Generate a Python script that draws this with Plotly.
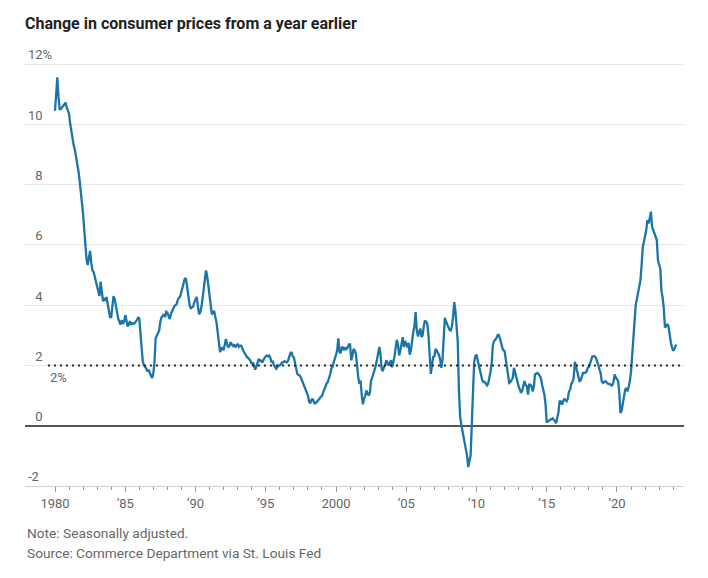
import pandas as pd
import plotly.graph_objects as go

# ---------------- data ----------------
start_month = "1980-01-01"
# PCE price index, % change from a year earlier, monthly (one row per year)
pce_yoy = [
    10.45, 11.0, 11.56, 10.9, 10.5, 10.5, 10.55, 10.6, 10.65, 10.72, 10.55, 10.45,   # 1980
    10.35, 10.0, 9.75, 9.55, 9.3, 9.15, 8.95, 8.7, 8.45, 8.15, 7.85, 7.4,           # 1981
    7.0, 6.5, 5.9, 5.5, 5.33, 5.6, 5.8, 5.4, 5.15, 5.1, 4.95, 4.8,                  # 1982
    4.6, 4.47, 4.3, 4.78, 4.5, 4.13, 4.2, 4.15, 4.27, 4.0, 3.75, 3.6,               # 1983
    3.6, 3.95, 4.3, 4.2, 3.97, 3.8, 3.55, 3.45, 3.36, 3.5, 3.38, 3.45,              # 1984
    3.67, 3.5, 3.3, 3.35, 3.47, 3.35, 3.4, 3.38, 3.4, 3.45, 3.5, 3.58,              # 1985
    3.55, 3.1, 2.7, 2.13, 2.0, 1.95, 1.9, 1.8, 1.86, 1.75, 1.65, 1.58,              # 1986
    1.75, 2.13, 2.9, 3.0, 3.1, 3.16, 3.45, 3.6, 3.65, 3.7, 3.6, 3.78,               # 1987
    3.75, 3.6, 3.54, 3.7, 3.8, 3.9, 3.97, 4.0, 4.05, 4.19, 4.25, 4.3,               # 1988
    4.45, 4.58, 4.7, 4.9, 4.85, 4.55, 4.36, 4.0, 3.9, 3.92, 3.95, 4.1,              # 1989
    4.2, 4.27, 4.0, 3.7, 3.75, 3.92, 4.2, 4.6, 5.0, 5.15, 4.95, 4.58,               # 1990
    4.2, 3.9, 3.7, 3.75, 3.81, 3.6, 3.43, 3.1, 2.8, 2.44, 2.55, 2.6,                # 1991
    2.5, 2.7, 2.88, 2.7, 2.6, 2.65, 2.77, 2.7, 2.65, 2.7, 2.6, 2.66,                # 1992
    2.7, 2.62, 2.66, 2.66, 2.55, 2.44, 2.4, 2.35, 2.27, 2.25, 2.2, 2.15,            # 1993
    2.05, 2.1, 2.0, 1.86, 1.95, 2.1, 2.22, 2.15, 2.16, 2.1, 2.2, 2.25,              # 1994
    2.3, 2.33, 2.3, 2.33, 2.25, 2.1, 2.15, 2.0, 1.95, 1.89, 1.95, 2.0,              # 1995
    2.0, 2.05, 2.1, 2.1, 2.14, 2.12, 2.1, 2.15, 2.3, 2.4, 2.44, 2.3,                # 1996
    2.27, 2.1, 1.9, 1.72, 1.68, 1.67, 1.6, 1.5, 1.35, 1.29, 1.2, 1.1,               # 1997
    1.0, 0.8, 0.74, 0.85, 0.9, 0.8, 0.74, 0.76, 0.8, 0.85, 0.9, 0.96,               # 1998
    0.98, 1.1, 1.2, 1.34, 1.4, 1.45, 1.55, 1.7, 1.89, 1.95, 2.1, 2.27,              # 1999
    2.35, 2.5, 2.9, 2.45, 2.4, 2.6, 2.6, 2.5, 2.6, 2.55, 2.6, 2.7,                  # 2000
    2.7, 2.17, 2.3, 2.55, 2.5, 2.39, 1.9, 1.61, 1.39, 1.5, 1.0, 0.71,               # 2001
    0.9, 1.0, 1.17, 1.1, 1.0, 1.1, 1.5, 1.6, 1.7, 1.86, 2.0, 2.28,                  # 2002
    2.4, 2.61, 2.4, 1.89, 1.81, 1.95, 2.0, 2.17, 2.06, 2.0, 2.1, 2.17,              # 2003
    1.94, 2.1, 2.3, 2.6, 2.85, 2.66, 2.33, 2.5, 2.7, 2.94, 2.61, 2.81,              # 2004
    2.7, 2.6, 2.75, 2.36, 2.5, 2.88, 3.1, 3.3, 3.77, 3.16, 2.96, 3.1,               # 2005
    3.22, 2.94, 3.0, 3.3, 3.49, 3.45, 3.38, 3.0, 2.2, 1.72, 2.0, 2.28,              # 2006
    2.3, 2.55, 2.5, 2.44, 2.35, 2.2, 1.92, 2.2, 2.9, 3.58, 3.45, 3.35,              # 2007
    3.3, 3.18, 3.16, 3.3, 3.6, 4.1, 3.82, 3.4, 2.77, 1.17, 0.3, 0.04,               # 2008
    -0.15, -0.35, -0.54, -0.76, -1.0, -1.37, -1.2, -0.98, 0.07, 1.2, 2.11, 2.3,     # 2009
    2.36, 2.17, 2.0, 1.8, 1.61, 1.5, 1.45, 1.45, 1.4, 1.34, 1.4, 1.56,              # 2010
    1.8, 2.1, 2.66, 2.8, 2.85, 2.9, 3.0, 3.01, 2.9, 2.7, 2.6, 2.5,                  # 2011
    2.48, 2.2, 1.9, 1.59, 1.42, 1.45, 1.5, 1.59, 1.92, 1.75, 1.59, 1.48,            # 2012
    1.3, 1.2, 1.09, 1.15, 1.3, 1.48, 1.35, 1.31, 1.03, 1.36, 1.36, 1.3,             # 2013
    1.14, 1.3, 1.7, 1.72, 1.75, 1.72, 1.65, 1.59, 1.36, 1.2, 1.03, 0.7,             # 2014
    0.1, 0.16, 0.16, 0.2, 0.22, 0.25, 0.2, 0.16, 0.08, 0.25, 0.45, 0.81,            # 2015
    0.81, 0.7, 0.8, 0.9, 0.85, 0.81, 0.9, 1.14, 1.2, 1.39, 1.45, 1.59,              # 2016
    2.12, 1.95, 1.75, 1.6, 1.48, 1.5, 1.6, 1.75, 1.75, 1.75, 1.8, 1.92,             # 2017
    1.95, 2.05, 2.15, 2.3, 2.31, 2.3, 2.25, 2.15, 2.03, 1.87, 1.75, 1.48,           # 2018
    1.42, 1.45, 1.48, 1.45, 1.4, 1.39, 1.38, 1.34, 1.34, 1.45, 1.7, 1.6,            # 2019
    1.55, 1.48, 1.1, 0.42, 0.5, 0.7, 0.95, 1.2, 1.25, 1.14, 1.3, 1.48,              # 2020
    1.81, 2.37, 3.0, 3.59, 4.0, 4.2, 4.4, 4.6, 4.82, 5.3, 5.93, 6.1,                # 2021
    6.27, 6.5, 6.82, 6.71, 6.88, 7.1, 6.6, 6.49, 6.4, 6.3, 6.16, 5.49,              # 2022
    5.38, 5.2, 4.48, 4.26, 3.9, 3.26, 3.3, 3.37, 3.3, 2.92, 2.76, 2.6,              # 2023
    2.48, 2.55, 2.65, 2.68,                                                         # 2024
]
target_rate = 2
x_tick_years = [1980, 1985, 1990, 1995, 2000, 2005, 2010, 2015, 2020]
x_tick_labels = ["1980", "\u201985", "\u201990", "\u201995", "2000",
                 "\u201905", "\u201910", "\u201915", "\u201920"]
y_tick_values = [-2, 0, 2, 4, 6, 8, 10, 12]
title_text = "Change in consumer prices from a year earlier"
note_text = "Note: Seasonally adjusted."
source_text = "Source: Commerce Department via St. Louis Fed"

# ---------------- figure ----------------
months = pd.date_range(start_month, periods=len(pce_yoy), freq="MS")

# the page body has an 8px margin, so the figure is 8px smaller and offset
W, H = 700, 570
ML, MR, MT, MB = 17, 24, 38, 92
plot_h = H - MT - MB

TFONT = "Roboto, sans-serif"
FONT = "Roboto, sans-serif"
GREY = "#666666"

def ylab(v):
    s = str(v)
    if v == max(y_tick_values):
        return s + "%"
    return ("\u2007" * (2 - len(s))) + s if len(s) < 2 else s

fig = go.Figure()
fig.add_trace(go.Scatter(
    x=months, y=pce_yoy, mode="lines",
    line=dict(color="#1a75a9", width=2.3),
    hoverinfo="skip", showlegend=False,
))

# 2% target line
fig.add_shape(type="line", xref="x", yref="y",
              x0="1979-07-01", x1="2024-10-08", y0=target_rate, y1=target_rate,
              line=dict(color="#222222", width=2, dash="2px,4px"), layer="above")
fig.add_annotation(x="1979-07-01", y=target_rate, xref="x", yref="y",
                   text=f"{target_rate}%", showarrow=False, xanchor="left",
                   yanchor="middle", yshift=-12,
                   font=dict(family=FONT, size=13, color=GREY))

fig.update_layout(
    width=W, height=H,
    margin=dict(l=ML, r=MR, t=MT, b=MB, pad=0),
    paper_bgcolor="white", plot_bgcolor="white",
    font=dict(family=FONT, size=13, color=GREY),
    title=dict(text=f"<b>{title_text}</b>", xref="container", yref="container",
               x=ML / W, xanchor="left", y=1 - 15 / H, yanchor="middle",
               font=dict(family=TFONT, size=16, color="#222222")),
    xaxis=dict(
        type="date", range=["1977-11-12", "2024-10-08"],
        tickvals=[f"{y}-01-01" for y in x_tick_years], ticktext=x_tick_labels,
        ticks="outside", ticklen=5, tickwidth=1, tickcolor="#999999",
        showline=True, linecolor="#d0d0d0", linewidth=1,
        showgrid=False, zeroline=False,
        tickfont=dict(family=FONT, size=13, color=GREY),
        minor=dict(dtick="M12", tick0="1980-01-01", ticks="outside", ticklen=3,
                   tickwidth=1, tickcolor="#999999", showgrid=False),
    ),
    yaxis=dict(
        range=[-2, 12.597],
        tickvals=y_tick_values, ticktext=[ylab(v) for v in y_tick_values],
        ticks="", ticklabelposition="inside top",
        showgrid=True, gridcolor="#e6e6e6", gridwidth=1,
        zeroline=True, zerolinecolor="#555555", zerolinewidth=1.5,
        showline=False,
        tickfont=dict(family=FONT, size=13, color=GREY),
    ),
    annotations=list(fig.layout.annotations) + [
        dict(text=note_text, xref="paper", yref="paper", x=0, y=-(525 - (H - MB)) / plot_h,
             xanchor="left", yanchor="middle", showarrow=False,
             font=dict(family=FONT, size=13.7, color=GREY)),
        dict(text=source_text, xref="paper", yref="paper", x=0, y=-(545 - (H - MB)) / plot_h,
             xanchor="left", yanchor="middle", showarrow=False,
             font=dict(family=FONT, size=13.7, color=GREY)),
    ],
)

fig.write_html("out.html")
